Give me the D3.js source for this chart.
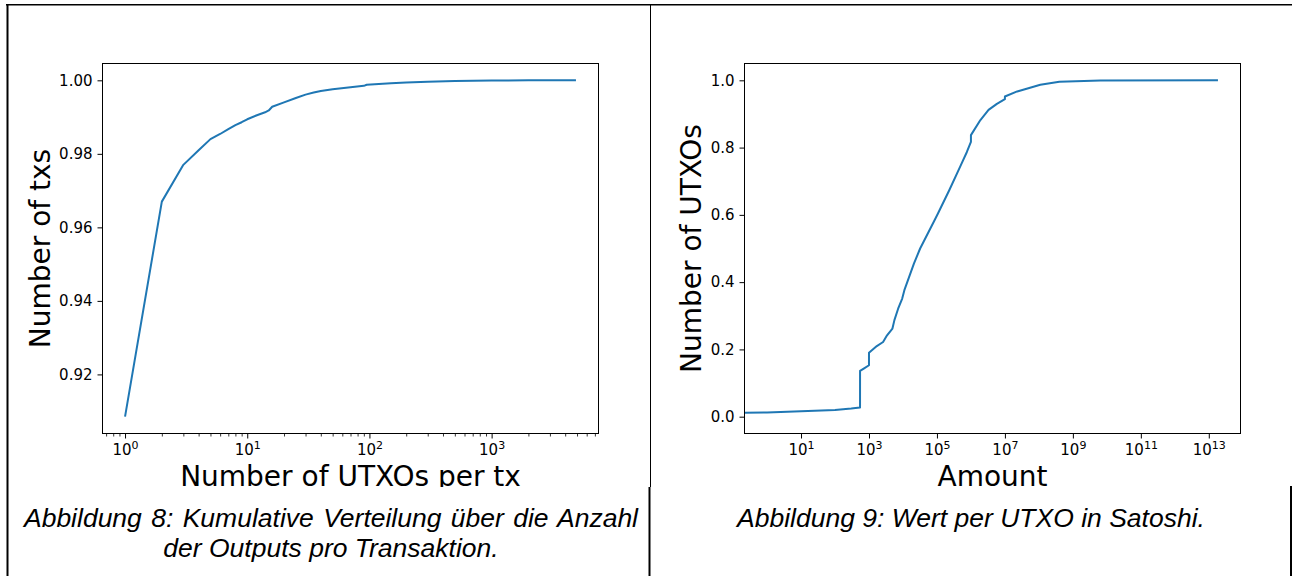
<!DOCTYPE html>
<html>
<head>
<meta charset="utf-8">
<script src="https://cdn.jsdelivr.net/npm/d3@7"></script>
<style>
  body { margin: 0; background: #fff; }
  .caption { font-family: "Liberation Sans", Arial, sans-serif; font-style: italic; font-size: 26.5px; fill: #000; }
</style>
</head>
<body>
<div id="page"></div>
<script>
// Abbildung 8: cumulative share of txs by number of outputs
var outputsPerTx = [1, 2, 3, 4, 5, 6, 7, 8, 9, 10, 12, 14, 15, 16, 20, 25, 30, 35, 40, 50, 70, 90, 95, 150, 200, 300, 500, 1000, 2000, 4900];
var txsCdf = [0.9085, 0.9670, 0.9770, 0.9810, 0.9840, 0.9854, 0.9867, 0.9878, 0.9886, 0.9894, 0.9905, 0.9913, 0.9918, 0.9928,
  0.9940, 0.9952, 0.9961, 0.9967, 0.9971, 0.9976, 0.9981, 0.9985, 0.9988, 0.9992, 0.9994, 0.9996, 0.9998, 0.99995, 1.0, 1.0];
var txsTicks = [0.92, 0.94, 0.96, 0.98, 1.00];
var outputsDecades = [1, 10, 100, 1000];

// Abbildung 9: value per UTXO (satoshi)
var utxoAmount = [0, 1, 10, 100, 300, 545, 546, 700, 999, 1000, 1700, 2600, 3400, 4900, 5600, 7200, 9500, 11000,
  21000, 32000, 85000, 107000, 230000, 490000, 760000, 999999, 1e6, 1.9e6, 3.3e6, 5.8e6, 9.99e6, 1e7, 2.3e7,
  5.5e7, 1.1e8, 4e8, 6.5e9, 1.86e13];
var utxoCdf = [0.012, 0.0125, 0.016, 0.020, 0.024, 0.027, 0.136, 0.143, 0.153, 0.190, 0.210, 0.222, 0.242, 0.262,
  0.287, 0.321, 0.351, 0.376, 0.455, 0.500, 0.584, 0.604, 0.673, 0.745, 0.787, 0.817, 0.837, 0.882, 0.912, 0.930,
  0.944, 0.952, 0.967, 0.978, 0.987, 0.996, 0.9995, 1.0];
var utxoTicks = [0.0, 0.2, 0.4, 0.6, 0.8, 1.0];
var amountDecades = [1e1, 1e3, 1e5, 1e7, 1e9, 1e11, 1e13];

var caption8 = ["Abbildung 8: Kumulative Verteilung über die Anzahl", "der Outputs pro Transaktion."];
var caption9 = ["Abbildung 9: Wert per UTXO in Satoshi."];

var svgWidth = 1292;
var svgHeight = 576;
var lineColor = "#1f77b4";

var svg = d3.select("#page")
  .append("svg")
  .attr("width", svgWidth)
  .attr("height", svgHeight)
  .style("display", "block");

svg.append("rect").attr("width", svgWidth).attr("height", svgHeight).attr("fill", "#fff");

// matplotlib style 5% padding
function padLog(ext) {
  var a = Math.log10(ext[0]), b = Math.log10(ext[1]), m = (b - a) * 0.05;
  return [Math.pow(10, a - m), Math.pow(10, b + m)];
}
function padLin(ext) {
  var m = (ext[1] - ext[0]) * 0.05;
  return [ext[0] - m, ext[1] + m];
}

// charts are cut off where the caption row begins
svg.append("clipPath").attr("id", "cellClip")
  .append("rect").attr("x", 0).attr("y", 0).attr("width", svgWidth).attr("height", 487);

var chartsGroup = svg.append("g").attr("clip-path", "url(#cellClip)");

function drawPanel(p) {
  var g = chartsGroup.append("g").attr("transform", `translate(${p.left}, ${p.top})`);
  var width = p.width, height = p.height;

  var x = d3.scaleLog().domain(p.xDomain).range([0, width]).clamp(true);
  var y = d3.scaleLinear().domain(p.yDomain).range([height, 0]);

  // minor ticks
  if (p.minor) {
    var minorVals = [];
    var lo = Math.floor(Math.log10(p.xDomain[0])), hi = Math.ceil(Math.log10(p.xDomain[1]));
    for (var k = lo; k <= hi; k++) {
      for (var s = 2; s <= 9; s++) {
        var v = s * Math.pow(10, k);
        if (v >= p.xDomain[0] && v <= p.xDomain[1]) minorVals.push(v);
      }
    }
    var minorAxis = g.append("g")
      .attr("transform", `translate(0, ${height})`)
      .call(d3.axisBottom(x).tickValues(minorVals).tickSize(3).tickFormat(""));
    minorAxis.select(".domain").remove();
    minorAxis.selectAll("line").attr("stroke", "#000").attr("stroke-width", 0.8);
  }

  var bottomAxis = d3.axisBottom(x).tickValues(p.xTicks).tickSize(5).tickFormat(d => "10");
  var xAxis = g.append("g")
    .attr("transform", `translate(0, ${height})`)
    .call(bottomAxis);
  xAxis.select(".domain").remove();
  xAxis.selectAll("line").attr("stroke", "#000").attr("stroke-width", 1);
  xAxis.selectAll(".tick text").each(function(d) {
    var t = d3.select(this);
    t.text(null)
      .attr("font-family", "DejaVu Sans")
      .attr("font-size", 15)
      .attr("fill", "#000")
      .attr("y", 21)
      .attr("dy", null);
    t.append("tspan").text("10");
    t.append("tspan").attr("dy", -6).attr("font-size", 11).text(Math.round(Math.log10(d)));
  });

  var leftAxis = d3.axisLeft(y).tickValues(p.yTicks).tickSize(5).tickPadding(5).tickFormat(d3.format(p.yFormat));
  var yAxis = g.append("g").call(leftAxis);
  yAxis.select(".domain").remove();
  yAxis.selectAll("line").attr("stroke", "#000").attr("stroke-width", 1);
  yAxis.selectAll("text")
    .attr("font-family", "DejaVu Sans")
    .attr("font-size", 15)
    .attr("fill", "#000");

  // the curve
  var line = d3.line()
    .x(d => x(d[0]))
    .y(d => y(d[1]));
  g.append("path")
    .datum(d3.zip(p.xs, p.ys))
    .attr("d", line)
    .attr("fill", "none")
    .attr("stroke", lineColor)
    .attr("stroke-width", 2)
    .attr("stroke-linejoin", "round");

  // axes frame
  g.append("rect")
    .attr("width", width)
    .attr("height", height)
    .attr("fill", "none")
    .attr("stroke", "#000")
    .attr("stroke-width", 1);

  // axis labels
  g.append("text")
    .attr("x", width / 2)
    .attr("y", height + 52)
    .attr("text-anchor", "middle")
    .attr("font-family", "DejaVu Sans")
    .attr("font-size", 28)
    .text(p.xLabel);

  g.append("text")
    .attr("transform", `translate(${p.yLabelX}, ${height / 2}) rotate(-90)`)
    .attr("text-anchor", "middle")
    .attr("font-family", "DejaVu Sans")
    .attr("font-size", 28)
    .text(p.yLabel);
}

drawPanel({
  left: 102.5, top: 63.5, width: 496, height: 370,
  xs: outputsPerTx, ys: txsCdf,
  xDomain: padLog(d3.extent(outputsPerTx)),
  yDomain: padLin(d3.extent(txsCdf)),
  xTicks: outputsDecades, yTicks: txsTicks, yFormat: ".2f",
  minor: true,
  xLabel: "Number of UTXOs per tx", yLabel: "Number of txs", yLabelX: -53
});

drawPanel({
  left: 744.5, top: 63.5, width: 496, height: 370,
  xs: utxoAmount, ys: utxoCdf,
  xDomain: padLog(d3.extent(utxoAmount.filter(d => d > 0))),
  yDomain: padLin([0, d3.max(utxoCdf)]),
  xTicks: amountDecades, yTicks: utxoTicks, yFormat: ".1f",
  minor: false,
  xLabel: "Amount", yLabel: "Number of UTXOs", yLabelX: -44
});

// table borders
var borders = [
  [6, 4.75, 1292, 4.75, 1.5],
  [7.5, 4, 7.5, 576, 2],
  [650.5, 4, 650.5, 487, 1],
  [649.5, 487, 649.5, 576, 2],
  [1291, 486, 1291, 576, 2]
];
svg.selectAll(".border")
  .data(borders)
  .enter()
  .append("line")
  .attr("class", "border")
  .attr("x1", d => d[0]).attr("y1", d => d[1])
  .attr("x2", d => d[2]).attr("y2", d => d[3])
  .attr("stroke", "#000")
  .attr("stroke-width", d => d[4]);

// captions
svg.append("text").attr("class", "caption")
  .attr("x", 331).attr("text-anchor", "middle")
  .selectAll("tspan")
  .data(caption8)
  .enter()
  .append("tspan")
  .attr("x", 331)
  .attr("y", (d, i) => 527 + i * 30)
  .attr("word-spacing", (d, i) => i === 0 ? 2 : 0)
  .text(d => d);

svg.append("text").attr("class", "caption")
  .attr("x", 971).attr("y", 527).attr("text-anchor", "middle")
  .text(caption9[0]);
</script>
</body>
</html>
